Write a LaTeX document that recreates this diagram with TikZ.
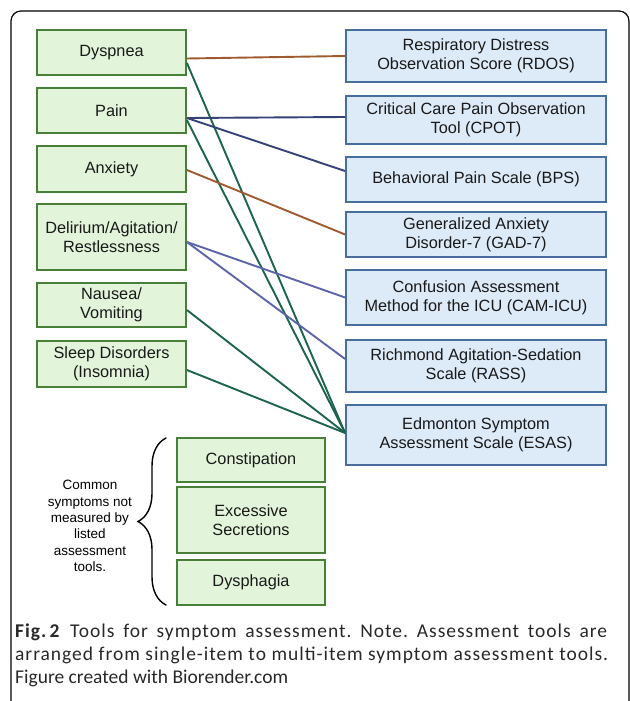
\documentclass[tikz,border=0pt]{standalone}
\usepackage{fontspec}
\usetikzlibrary{calc,decorations.pathreplacing}
\newfontfamily\boxfont{Liberation Sans}
\newfontfamily\capfont{Carlito}
\newfontfamily\capwidefont[LetterSpace=5]{Carlito}
\definecolor{gfill}{RGB}{226,244,218}
\definecolor{gdraw}{RGB}{72,128,58}
\definecolor{bfill}{RGB}{221,234,247}
\definecolor{bdraw}{RGB}{72,110,160}
\definecolor{cbrown}{RGB}{160,90,48}
\definecolor{cnavy}{RGB}{52,66,120}
\definecolor{cpurp}{RGB}{92,100,172}
\definecolor{cgreen}{RGB}{28,100,74}
\definecolor{captext}{RGB}{40,40,40}
\tikzset{
  gbox/.style={draw=gdraw, fill=gfill, line width=1.8bp, inner sep=0pt, align=center,
    text=black!90, font=\boxfont\fontsize{16.3bp}{19bp}\selectfont},
  bbox/.style={draw=bdraw, fill=bfill, line width=1.8bp, inner sep=0pt, align=center,
    text=black!90, minimum width=260bp, font=\boxfont\fontsize{16.3bp}{19bp}\selectfont},
  conn/.style={line width=1.9bp},
  capline/.style={anchor=base west, inner sep=0pt, text=captext,
    font=\capfont\fontsize{19.5bp}{23bp}\selectfont\frenchspacing},
  capwide/.style={anchor=base west, inner sep=0pt, text=captext,
    font=\capwidefont\fontsize{19.5bp}{23bp}\selectfont\frenchspacing},
}
\begin{document}
\begin{tikzpicture}[x=1bp,y=-1bp]
\useasboundingbox (0,0) rectangle (630,701);
\clip (0,0) rectangle (630,701);
\draw[line width=1.2bp, rounded corners=10bp] (11,11) rectangle (629,725);
% left boxes
\node[gbox, minimum width=149bp, minimum height=45bp] (dys) at (111.5,52.5) {Dyspnea};
\node[gbox, minimum width=149bp, minimum height=45bp] (pain) at (111.5,110.5) {Pain};
\node[gbox, minimum width=149bp, minimum height=46bp] (anx) at (111.5,169) {Anxiety};
\node[gbox, minimum width=149bp, minimum height=66bp] (del) at (111.5,237) {Delirium/Agitation/\\Restlessness};
\node[gbox, minimum width=149bp, minimum height=44bp] (nau) at (111.5,305) {Nausea/\\Vomiting};
\node[gbox, minimum width=149bp, minimum height=46bp] (slp) at (111.5,364) {Sleep Disorders\\(Insomnia)};
% right boxes
\node[bbox, minimum height=52bp] (rdos) at (476,56) {Respiratory Distress\\Observation Score (RDOS)};
\node[bbox, minimum height=48bp] (cpot) at (476,120) {Critical Care Pain Observation\\Tool (CPOT)};
\node[bbox, minimum height=45bp] (bps) at (476,179.5) {Behavioral Pain Scale (BPS)};
\node[bbox, minimum height=45bp] (gad) at (476,234.5) {Generalized Anxiety\\Disorder-7 (GAD-7)};
\node[bbox, minimum height=55bp] (cam) at (476,297.5) {Confusion Assessment\\Method for the ICU (CAM-ICU)};
\node[bbox, minimum height=52bp] (rass) at (476,366) {Richmond Agitation-Sedation\\Scale (RASS)};
\node[bbox, minimum height=60bp] (esas) at (476,435) {Edmonton Symptom\\Assessment Scale (ESAS)};
% bottom boxes
\node[gbox, minimum width=148bp, minimum height=44bp] (con) at (251,460) {Constipation};
\node[gbox, minimum width=148bp, minimum height=66bp] (exc) at (251,520) {Excessive\\Secretions};
\node[gbox, minimum width=148bp, minimum height=45bp] (dph) at (251,582.5) {Dysphagia};
% connectors
\draw[conn, cbrown] ($(dys.east)+(0,6)$) -- (rdos.west);
\draw[conn, cgreen] ($(dys.east)+(0,10.5)$) -- ($(esas.west)+(0,-2)$);
\draw[conn, cnavy] ($(pain.east)+(0,7.5)$) -- ($(cpot.west)+(0,-3)$);
\draw[conn, cnavy] ($(pain.east)+(0,7.5)$) -- ($(bps.west)+(0,-8.5)$);
\draw[conn, cgreen] ($(pain.east)+(0,9.5)$) -- ($(esas.west)+(0,-2)$);
\draw[conn, cbrown] ($(anx.east)+(0,1)$) -- (gad.west);
\draw[conn, cpurp] ($(del.east)+(0,5)$) -- (cam.west);
\draw[conn, cpurp] ($(del.east)+(0,5)$) -- ($(rass.west)+(0,-7)$);
\draw[conn, cgreen] ($(nau.east)+(0,5)$) -- ($(esas.west)+(0,-2)$);
\draw[conn, cgreen] ($(slp.east)+(0,6)$) -- ($(esas.west)+(0,-2)$);
% brace
\coordinate (bb) at (166,605);
\coordinate (bt) at (166,438);
\draw[line width=1.4bp, line cap=round, decorate, decoration={brace, amplitude=28bp, aspect=0.5}] (bb) -- (bt);
\node[align=center, font=\boxfont\fontsize{13.5bp}{16.4bp}\selectfont] (note) at (90,526)
  {Common\\symptoms not\\measured by\\listed\\assessment\\tools.};
% caption
\node[capwide] (cap1) at (15,637)
  {\makebox[592bp][s]{\textbf{Fig.\,2}\enspace Tools for symptom assessment. Note. Assessment tools are}};
\node[capwide] (cap2) at (15,660)
  {\makebox[593bp][s]{arranged from single-item to multi-item symptom assessment tools.}};
\node[capline] (cap3) at (15,683)
  {Figure created with Biorender.com};
\end{tikzpicture}
\end{document}
